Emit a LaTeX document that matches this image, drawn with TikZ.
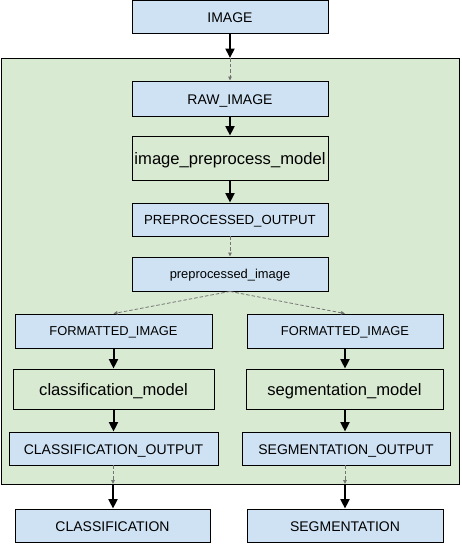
\documentclass[tikz,border=0pt]{standalone}
\usepackage{fontspec}
\setmainfont{Liberation Sans}
\usetikzlibrary{arrows.meta}
\definecolor{boxblue}{HTML}{CFE2F3}
\definecolor{boxgreen}{HTML}{D9EAD3}
\definecolor{dashgray}{HTML}{737373}
\tikzset{
  base/.style={draw=black, line width=0.9pt, inner sep=0pt, anchor=center, text depth=0pt},
  bluebox/.style={base, fill=boxblue},
  greenbox/.style={base, fill=boxgreen},
  fsA/.style={font=\fontsize{14}{16}\selectfont, text height=12pt},
  fsB/.style={font=\fontsize{13.2}{15}\selectfont, text height=10pt},
  fsC/.style={font=\fontsize{12.9}{15}\selectfont, text height=9.5pt},
  fsM/.style={font=\fontsize{16.6}{19}\selectfont, text height=12pt},
  solidarrow/.style={line width=2pt, -{Triangle[length=9.5pt,width=9pt]}},
  dasharrow/.style={draw=dashgray, line width=0.8pt, dash pattern=on 3.5pt off 2pt, -{Triangle[length=4pt,width=3.5pt]}},
}
\begin{document}
\begin{tikzpicture}[x=1pt,y=-1pt]
\useasboundingbox (0,0) rectangle (461,544);
% container
\node[draw=black, line width=0.9pt, fill=boxgreen, inner sep=0pt, minimum width=458pt, minimum height=426pt] (cont) at (230,271) {};
% nodes
\node[bluebox, fsA, minimum width=196pt, minimum height=33pt] (image) at (230,16.5) {IMAGE};
\node[bluebox, fsA, minimum width=196pt, minimum height=35pt] (raw) at (230,98.5) {RAW\_IMAGE};
\node[greenbox, fsM, minimum width=196pt, minimum height=44pt] (prepm) at (230,158) {image\_preprocess\_model};
\node[bluebox, fsB, minimum width=196pt, minimum height=33pt] (prepo) at (230,219.5) {PREPROCESSED\_OUTPUT};
\node[bluebox, fsC, minimum width=196pt, minimum height=34pt] (prepi) at (230,274) {preprocessed\_image};
\node[bluebox, fsC, minimum width=197pt, minimum height=34pt] (fl) at (113.5,331) {FORMATTED\_IMAGE};
\node[greenbox, fsM, minimum width=201pt, minimum height=40pt] (cm) at (113.5,389) {classification\_model};
\node[bluebox, fsA, minimum width=209pt, minimum height=33pt] (co) at (113.5,448.5) {CLASSIFICATION\_OUTPUT};
\node[bluebox, fsA, minimum width=195pt, minimum height=33pt] (cl) at (112.5,525.5) {CLASSIFICATION};
\node[bluebox, fsC, minimum width=196pt, minimum height=34pt] (fr) at (345,331) {FORMATTED\_IMAGE};
\node[greenbox, fsM, minimum width=197pt, minimum height=40pt] (sm) at (344.5,389) {segmentation\_model};
\node[bluebox, fsA, minimum width=208pt, minimum height=33pt] (so) at (346,448.5) {SEGMENTATION\_OUTPUT};
\node[bluebox, fsA, minimum width=196pt, minimum height=33pt] (sg) at (345,525.5) {SEGMENTATION};
% boundary coordinates
\coordinate (inTop) at (230,58);
\coordinate (outL) at (113,484);
\coordinate (outR) at (345,484);
% connectors
\draw[solidarrow] (image.south) -- (inTop);
\draw[dasharrow] (inTop) -- (raw.north);
\draw[solidarrow] (raw.south) -- (prepm.north);
\draw[solidarrow] (prepm.south) -- (prepo.north);
\draw[dasharrow] (prepo.south) -- (prepi.north);
\draw[dasharrow] (prepi.south) -- (fl.north);
\draw[dasharrow] (prepi.south) -- (fr.north);
\draw[solidarrow] (fl.south) -- (fl.south |- cm.north);
\draw[solidarrow] (cm.south) -- (cm.south |- co.north);
\draw[dasharrow] (co.south -| outL) -- (outL);
\draw[solidarrow] (outL) -- (outL |- cl.north);
\draw[solidarrow] (fr.south) -- (fr.south |- sm.north);
\draw[solidarrow] (sm.south -| fr.south) -- (fr.south |- so.north);
\draw[dasharrow] (so.south -| outR) -- (outR);
\draw[solidarrow] (outR) -- (outR |- sg.north);
\end{tikzpicture}
\end{document}
